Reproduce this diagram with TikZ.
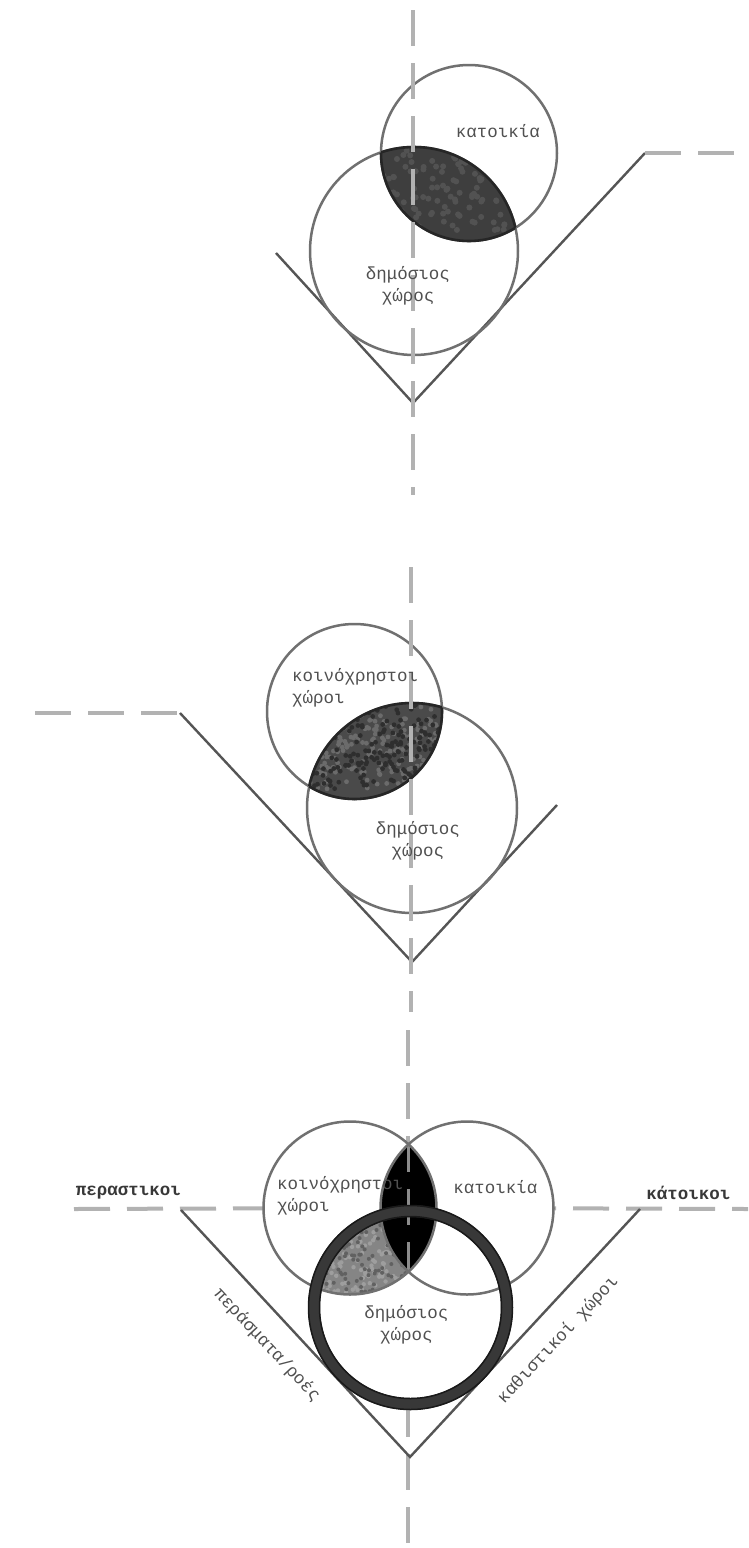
\documentclass[tikz,border=0pt]{standalone}
\usepackage{fontspec}
\setmainfont{Liberation Mono}
\definecolor{dashgray}{HTML}{B2B2B2}
\definecolor{linegray}{HTML}{555555}
\definecolor{circgray}{HTML}{707070}
\definecolor{textgray}{HTML}{505050}
\definecolor{lensA}{HTML}{3E3E3E}
\definecolor{lensB}{HTML}{4A4A4A}
\definecolor{lensC}{HTML}{858585}
\definecolor{ringgray}{HTML}{383838}
\begin{document}
\begin{tikzpicture}[x=1pt,y=-1pt,
  dashln/.style={draw=dashgray, line width=4pt, dash pattern=on 36pt off 17pt},
  lensdash/.style={draw=gray, line width=3pt, dash pattern=on 36pt off 17pt},
  vline/.style={draw=linegray, line width=2.4pt, line join=miter},
  circ/.style={draw=circgray, line width=2.5pt},
  lensedge/.style={draw=black!85, line width=2.6pt},
  speckD/.style={fill=black!82},
  speckL/.style={fill=black!58},
  lab/.style={font=\fontsize{17.5}{22}\selectfont, text=textgray, inner sep=0pt},
  blab/.style={font=\fontsize{17.5}{22}\selectfont\bfseries, text=black!78, inner sep=0pt},
]
\path[use as bounding box, fill=white] (0,0) rectangle (748,1548);
\pgfmathsetseed{7}

% ---------------- diagram 1 ----------------
\coordinate (pubA) at (414,251);
\coordinate (homA) at (469,153);
\coordinate (aL) at (276,253);
\coordinate (aV) at (413,403);
\coordinate (aR) at (645,153);
\coordinate (aE) at (748,153);
\coordinate (aT) at (413,10);
\coordinate (aB) at (413,495);
\draw[vline] (aL) -- (aV) -- (aR);
\draw[dashln] (aR) -- (aE);
\draw[circ] (pubA) circle[radius=104];
\draw[circ] (homA) circle[radius=88];
\begin{scope}
  \clip (pubA) circle[radius=104];
  \clip (homA) circle[radius=88];
  \fill[lensA] (homA) circle[radius=88];
  \foreach \i in {1,...,120} {
    \fill[black!68] (448+68*rand,190+40*rand) circle[radius=3];
  }
\end{scope}
\begin{scope}
  \clip (pubA) circle[radius=104];
  \draw[lensedge] (homA) circle[radius=88];
\end{scope}
\begin{scope}
  \clip (homA) circle[radius=88];
  \draw[lensedge] (pubA) circle[radius=104];
\end{scope}
\draw[dashln] (aT) -- (aB);
\node[lab] (homeA) at (498,131) {κατοικία};
\node[lab, align=center] (publicA) at (408,286) {δημόσιος\\χώρος};

% ---------------- diagram 2 ----------------
\coordinate (pubB) at (412,808);
\coordinate (comB) at (354.5,711.5);
\coordinate (bS) at (35,713);
\coordinate (bL) at (180,713);
\coordinate (bV) at (412,962);
\coordinate (bR) at (557,805);
\coordinate (bT) at (411,567);
\coordinate (bB) at (411,1012);
\draw[dashln] (bS) -- (bL);
\draw[vline] (bL) -- (bV) -- (bR);
\draw[circ] (pubB) circle[radius=105];
\draw[circ] (comB) circle[radius=87.5];
\begin{scope}
  \clip (pubB) circle[radius=105];
  \clip (comB) circle[radius=87.5];
  \fill[lensB] (comB) circle[radius=87.5];
  \foreach \i in {1,...,220} {
    \fill[speckL] (376+68*rand,747+42*rand) circle[radius=2.4];
  }
  \foreach \i in {1,...,200} {
    \fill[speckD] (376+68*rand,747+42*rand) circle[radius=2.4];
  }
\end{scope}
\begin{scope}
  \clip (pubB) circle[radius=105];
  \draw[lensedge] (comB) circle[radius=87.5];
\end{scope}
\begin{scope}
  \clip (comB) circle[radius=87.5];
  \draw[lensedge] (pubB) circle[radius=105];
\end{scope}
\draw[dashln] (bT) -- (bB);
\node[lab, align=left, anchor=west] (commonB) at (292,687.5) {κοινόχρηστοι\\χώροι};
\node[lab, align=center] (publicB) at (418,841) {δημόσιος\\χώρος};

% ---------------- diagram 3 ----------------
\coordinate (comC) at (350,1208);
\coordinate (homC) at (467,1208);
\coordinate (pubC) at (410.5,1307.5);
\coordinate (cS) at (74,1209);
\coordinate (cL) at (181,1210);
\coordinate (cV) at (410,1457);
\coordinate (cR) at (640,1209);
\coordinate (cE) at (748,1209);
\coordinate (cT) at (408,1030);
\coordinate (cB) at (408,1548);
\draw[dashln] (cS) -- (comC);
\draw[dashln] (homC) -- (cE);
\draw[dashln] (cT) -- (cB);
\draw[vline] (cL) -- (cV) -- (cR);
\fill[white] (comC) circle[radius=86.5];
\fill[white] (homC) circle[radius=86.5];
\fill[white] (pubC) circle[radius=96.5];
\begin{scope}
  \clip (comC) circle[radius=86.5];
  \clip (pubC) circle[radius=96.5];
  \fill[lensC] (comC) circle[radius=86.5];
  \foreach \i in {1,...,200} {
    \fill[black!38] (360+55*rand,1255+45*rand) circle[radius=2.2];
  }
  \foreach \i in {1,...,160} {
    \fill[black!62] (360+55*rand,1255+45*rand) circle[radius=2];
  }
\end{scope}
\begin{scope}
  \clip (comC) circle[radius=86.5];
  \fill[black] (homC) circle[radius=86.5];
  \draw[lensdash, draw=black!45] (cT) -- (cB);
\end{scope}
\draw[circ] (comC) circle[radius=86.5];
\draw[circ] (homC) circle[radius=86.5];
\draw[draw=ringgray, line width=12pt] (pubC) circle[radius=96.5];
\draw[draw=black!90, line width=1.5pt] (pubC) circle[radius=102];
\draw[draw=black!90, line width=1.5pt] (pubC) circle[radius=91];
\node[lab, align=left, anchor=west] (commonC) at (277,1196) {κοινόχρηστοι\\χώροι};
\node[lab] (homeC) at (495.5,1187) {κατοικία};
\node[lab, align=center] (publicC) at (406.5,1325) {δημόσιος\\χώρος};
\node[blab] (passers) at (128.5,1193) {περαστικοι};
\node[blab] (residents) at (688.5,1193) {κάτοικοι};
\node[lab, rotate=-47] (flows) at (267,1345) {περάσματα/ροές};
\node[lab, rotate=47] (seating) at (558,1340) {καθιστικοί χώροι};
\end{tikzpicture}
\end{document}
